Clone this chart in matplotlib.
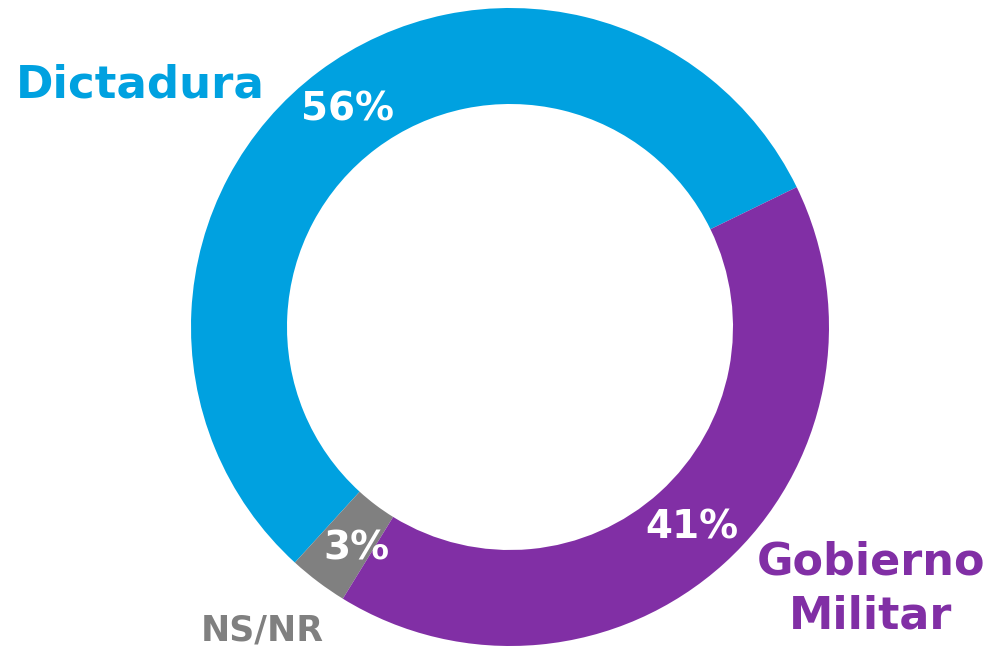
import matplotlib
matplotlib.use("Agg")
import matplotlib.pyplot as plt

# Data
labels = ["Dictadura", "NS/NR", "Gobierno\nMilitar"]
values = [56, 3, 41]
colors = ["#00A1E0", "#808080", "#812FA5"]

plt.rcParams['font.family'] = ['DejaVu Sans']

fig = plt.figure(figsize=(9.95, 6.47), dpi=100)
ax = fig.add_axes([0, 0, 1, 1])
ax.set_xlim(0, 995)
ax.set_ylim(0, 647)
ax.set_aspect('equal')
ax.axis('off')

wedges, texts, autotexts = ax.pie(
    values, colors=colors, startangle=26, counterclock=True,
    center=(510, 320), radius=319,
    wedgeprops=dict(width=96, edgecolor='none'),
    autopct='%1.0f%%', pctdistance=0.85,
    textprops=dict(color='white', fontsize=28, fontweight='bold'),
)
ax.set_xlim(0, 995)
ax.set_ylim(0, 647)

# small nudge of the 3% label, as in the original
autotexts[1].set_x(autotexts[1].get_position()[0] + 10)
autotexts[1].set_y(autotexts[1].get_position()[1] - 5)

# Category labels
ax.text(140, 647 - 85, labels[0], color=colors[0], fontsize=32.5, fontweight='bold',
        ha='center', va='center')
ax.text(262, 647 - 631, labels[1], color=colors[1], fontsize=25, fontweight='bold',
        ha='center', va='center')
ax.text(871, 647 - 589, labels[2], color=colors[2], fontsize=32, fontweight='bold',
        ha='center', va='center', linespacing=1.3)

fig.savefig("out.png", dpi=100, facecolor='white')
